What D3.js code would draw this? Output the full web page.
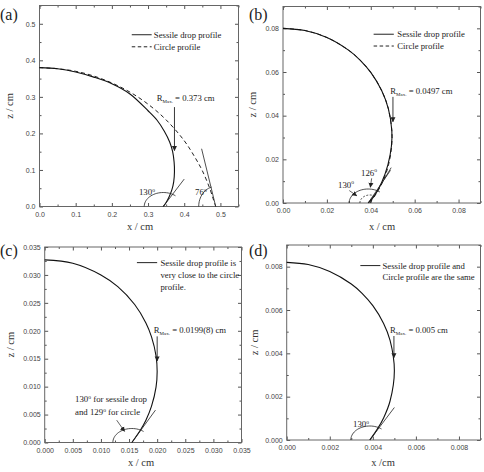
<!DOCTYPE html>
<html>
<head>
<meta charset="utf-8">
<script src="https://cdn.jsdelivr.net/npm/d3@7"></script>
<style>
  body { margin: 0; background: #fff; }
  text { font-family: "Liberation Serif", "Times New Roman", serif; }
  .tick text { font-family: "Liberation Sans", Arial, sans-serif; font-size: 7px; fill: #444; }
</style>
</head>
<body>
<svg id="chart" width="484" height="472"></svg>
<script>
"use strict";

// ---- data: [x, z] in cm ----
const sessileA = [[0, 0.380], [0.05, 0.377], [0.10, 0.368], [0.15, 0.354], [0.20, 0.336], [0.25, 0.308],
    [0.30, 0.262], [0.325, 0.236], [0.345, 0.206], [0.36, 0.176], [0.368, 0.150], [0.372, 0.122],
    [0.373, 0.095], [0.371, 0.068], [0.366, 0.046], [0.358, 0.026], [0.350, 0.011], [0.342, 0]];
const circleA = [[0, 0.380], [0.05, 0.377], [0.10, 0.370], [0.15, 0.357], [0.20, 0.338], [0.25, 0.313],
    [0.30, 0.280], [0.35, 0.237], [0.40, 0.180], [0.43, 0.134], [0.45, 0.098], [0.47, 0.051],
    [0.48, 0.021], [0.487, 0]];
const sessileB = [[0, 0.0800], [0.01, 0.0790], [0.02, 0.0758], [0.03, 0.0699], [0.035, 0.0656], [0.04, 0.0598],
    [0.045, 0.0514], [0.048, 0.0432], [0.0496, 0.0330], [0.0494, 0.0260], [0.0478, 0.0175], [0.0450, 0.0095],
    [0.0422, 0.0042], [0.0388, 0]];
const circleB = [[0, 0.0800], [0.01, 0.0790], [0.02, 0.0758], [0.03, 0.0699], [0.035, 0.0656], [0.04, 0.0598],
    [0.045, 0.0514], [0.048, 0.0432], [0.0497, 0.0303], [0.0481, 0.0175], [0.0452, 0.0092],
    [0.0426, 0.0045], [0.0396, 0]];
const sessileC = [[0, 0.0327], [0.005, 0.0321], [0.010, 0.0300], [0.013, 0.0279], [0.016, 0.0247], [0.018, 0.0214],
    [0.019, 0.0189], [0.0198, 0.0155], [0.0200, 0.0127], [0.0198, 0.0099], [0.0190, 0.0065],
    [0.0180, 0.0040], [0.0170, 0.0022], [0.0155, 0]];
const sessileD = [[0, 0.00820], [0.001, 0.00810], [0.002, 0.00778], [0.003, 0.00720], [0.0035, 0.00677],
    [0.004, 0.00620], [0.0045, 0.00538], [0.0048, 0.00460], [0.0050, 0.00320], [0.0048, 0.00180],
    [0.0045, 0.00102], [0.0042, 0.00049], [0.00386, 0]];

// tangent lines at the contact points
const tangentsA = [[[0.342, 0], [0.400, 0.075]], [[0.487, 0], [0.448, 0.158]]];
const tangentsB = [[[0.0388, 0], [0.0490, 0.0150]], [[0.0396, 0], [0.0493, 0.0162]]];
const tangentsC = [[[0.0155, 0], [0.0197, 0.0058]]];
const tangentsD = [[[0.00386, 0], [0.0050, 0.0015]]];

// tick values
const majorA = [0, 0.1, 0.2, 0.3, 0.4, 0.5];
const minorA = [0.05, 0.15, 0.25, 0.35, 0.45, 0.55];
const majorB = [0, 0.02, 0.04, 0.06, 0.08];
const minorB = [0.01, 0.03, 0.05, 0.07, 0.09];
const majorC = [0, 0.005, 0.010, 0.015, 0.020, 0.025, 0.030, 0.035];
const minorC = [0.0025, 0.0075, 0.0125, 0.0175, 0.0225, 0.0275, 0.0325];
const majorD = [0, 0.002, 0.004, 0.006, 0.008];
const minorD = [0.001, 0.003, 0.005, 0.007, 0.009];

const svg = d3.select("#chart");

svg.append("defs").append("marker")
    .attr("id", "arrow")
    .attr("viewBox", "0 0 10 10")
    .attr("refX", 9).attr("refY", 5)
    .attr("markerWidth", 5).attr("markerHeight", 6)
    .attr("markerUnits", "userSpaceOnUse")
    .attr("orient", "auto")
    .append("path")
    .attr("d", "M0,0L10,5L0,10z")
    .attr("fill", "#222");

const panels = [
    {
        letter: "(a)", letterPos: [0, 20],
        left: 39.5, right: 238.5, top: 5.5, bottom: 206.5,
        xDomain: [0, 0.55], yDomain: [0, 0.55], major: majorA, minor: minorA, fmt: ".1f",
        xTitle: "x / cm", titleX: 140, titleY: 230, yTitleX: 13,
        solid: sessileA, dashed: circleA, tangents: tangentsA,
        arcs: [{ at: [0.342, 0], rx: 19, ry: 14, end: 50 }, { at: [0.487, 0], rx: 17, ry: 20, end: 104 }],
        legend: { x: 0.255, x2: 0.31, tx: 0.316, lines: [[0.47, "Sessile drop profile", "solid"], [0.437, "Circle profile", "dash"]] },
        rmax: { x: 0.324, z: 0.289, value: " = 0.373 cm", ax: 0.373, z0: 0.272, z1: 0.153 },
        notes: [{ x: 0.297, z: 0.031, deg: "130", anchor: "middle" }, { x: 0.446, z: 0.031, deg: "76", anchor: "middle" }],
        pointers: []
    },
    {
        letter: "(b)", letterPos: [249, 20],
        left: 283, right: 480.5, top: 6.5, bottom: 203,
        xDomain: [0, 0.09], yDomain: [0, 0.09], major: majorB, minor: minorB, fmt: ".2f",
        xTitle: "x / cm", titleX: 382, titleY: 230, yTitleX: 256,
        solid: sessileB, dashed: circleB, tangents: tangentsB,
        arcs: [{ at: [0.0388, 0], rx: 19, ry: 14, end: 52 }, { at: [0.0396, 0], rx: 10, ry: 8, end: 54, dash: true }],
        legend: { x: 0.0413, x2: 0.0505, tx: 0.0521, lines: [[0.0773, "Sessile drop profile", "solid"], [0.0719, "Circle profile", "dash"]] },
        rmax: { x: 0.0489, z: 0.0497, value: " = 0.0497 cm", ax: 0.0501, z0: 0.0486, z1: 0.0372 },
        notes: [{ x: 0.0287, z: 0.0069, deg: "130", anchor: "middle" }, { x: 0.0392, z: 0.0124, deg: "126", anchor: "middle" }],
        pointers: [[[0.0302, 0.0057], [0.0336, 0.0033]], [[0.0404, 0.0113], [0.0398, 0.0072]]]
    },
    {
        letter: "(c)", letterPos: [0, 256],
        left: 44.7, right: 241.5, top: 247, bottom: 442.5,
        xDomain: [0, 0.035], yDomain: [0, 0.035], major: majorC, minor: minorC, fmt: ".3f",
        xTitle: "x / cm", titleX: 141, titleY: 466, yTitleX: 14,
        solid: sessileC, dashed: null, tangents: tangentsC,
        arcs: [{ at: [0.0155, 0], rx: 19, ry: 14, end: 52 }],
        legend: { x: 0.0164, x2: 0.0200, tx: 0.0206, lines: [[0.0322, "Sessile drop profile is", "solid"], [0.0300, "very close to the circle"], [0.0278, "profile."]] },
        rmax: { x: 0.0194, z: 0.0196, value: " = 0.0199(8) cm", ax: 0.0200, z0: 0.0190, z1: 0.0146 },
        notes: [{ x: 0.0054, z: 0.00725, text: "130", rest: " for sessile drop" }, { x: 0.0054, z: 0.0049, text: "and 129", rest: " for circle" }],
        pointers: [[[0.0128, 0.0040], [0.0142, 0.0020]]]
    },
    {
        letter: "(d)", letterPos: [249, 256],
        left: 286.7, right: 480.5, top: 245, bottom: 440,
        xDomain: [0, 0.009], yDomain: [0, 0.009], major: majorD, minor: minorD, fmt: ".3f",
        xTitle: "x /cm", titleX: 383, titleY: 466, yTitleX: 258,
        solid: sessileD, dashed: null, tangents: tangentsD,
        arcs: [{ at: [0.00386, 0], rx: 19, ry: 14, end: 52 }],
        legend: { x: 0.00342, x2: 0.00435, tx: 0.00445, lines: [[0.00805, "Sessile drop profile and", "solid"], [0.00751, "Circle profile are the same"]] },
        rmax: { x: 0.0048, z: 0.00494, value: " = 0.005 cm", ax: 0.00498, z0: 0.0048, z1: 0.0038 },
        notes: [{ x: 0.00345, z: 0.0006, deg: "130", anchor: "middle" }],
        pointers: []
    }
];

panels.forEach(DrawPanel);

function DrawPanel(p) {
    const g = svg.append("g");
    const x = d3.scaleLinear().domain(p.xDomain).range([p.left, p.right]);
    const y = d3.scaleLinear().domain(p.yDomain).range([p.bottom, p.top]);
    const fmt = d3.format(p.fmt);

    // Inward ticks on all four sides, labels on bottom and left only
    const addAxis = (axisFn, scale, tx, ty, values, size, labels, dy) => {
        const ax = axisFn(scale).tickValues(values).tickSize(-size).tickPadding(4)
            .tickFormat(labels ? fmt : "");
        g.append("g")
            .attr("transform", `translate(${tx},${ty})`)
            .call(ax)
            .call(s => s.select(".domain").remove())
            .call(s => s.selectAll(".tick line").attr("stroke", "#555"))
            .call(s => s.selectAll(".tick text").attr("dy", dy || null));
    };
    addAxis(d3.axisBottom, x, 0, p.bottom, p.major, 3.5, true, "0.9em");
    addAxis(d3.axisBottom, x, 0, p.bottom, p.minor.filter(v => v <= p.xDomain[1]), 2, false);
    addAxis(d3.axisTop, x, 0, p.top, p.major, 3.5, false);
    addAxis(d3.axisTop, x, 0, p.top, p.minor.filter(v => v <= p.xDomain[1]), 2, false);
    addAxis(d3.axisLeft, y, p.left, 0, p.major, 3.5, true, "0.32em");
    addAxis(d3.axisLeft, y, p.left, 0, p.minor.filter(v => v <= p.yDomain[1]), 2, false);
    addAxis(d3.axisRight, y, p.right, 0, p.major, 3.5, false);
    addAxis(d3.axisRight, y, p.right, 0, p.minor.filter(v => v <= p.yDomain[1]), 2, false);

    // Frame
    g.append("rect")
        .attr("x", p.left).attr("y", p.top)
        .attr("width", p.right - p.left).attr("height", p.bottom - p.top)
        .attr("fill", "none").attr("stroke", "#666").attr("stroke-width", 1);

    const line = d3.line()
        .curve(d3.curveCatmullRom)
        .x(d => x(d[0]))
        .y(d => y(d[1]));

    if (p.dashed) {
        g.append("path").datum(p.dashed)
            .attr("d", line).attr("fill", "none")
            .attr("stroke", "#222").attr("stroke-width", 1)
            .attr("stroke-dasharray", "4,3");
    }
    g.append("path").datum(p.solid)
        .attr("d", line).attr("fill", "none")
        .attr("stroke", "#111").attr("stroke-width", 1.1);

    // Tangent lines
    g.selectAll(".tangent").data(p.tangents).join("line")
        .attr("class", "tangent")
        .attr("x1", d => x(d[0][0])).attr("y1", d => y(d[0][1]))
        .attr("x2", d => x(d[1][0])).attr("y2", d => y(d[1][1]))
        .attr("stroke", "#222").attr("stroke-width", 0.8);

    // Angle arcs
    p.arcs.forEach(a => {
        const cx = x(a.at[0]), cy = y(a.at[1]);
        const pts = d3.range(180, a.end - 0.1, -5).concat([a.end]).map(t => {
            const r = t * Math.PI / 180;
            return [cx + a.rx * Math.cos(r), cy - a.ry * Math.sin(r)];
        });
        g.append("path")
            .attr("d", d3.line()(pts))
            .attr("fill", "none").attr("stroke", "#222").attr("stroke-width", 0.8)
            .attr("stroke-dasharray", a.dash ? "2,1.5" : null);
    });

    // Legend
    const lg = p.legend;
    lg.lines.forEach(l => {
        if (l[2]) {
            g.append("line")
                .attr("x1", x(lg.x)).attr("x2", x(lg.x2))
                .attr("y1", y(l[0])).attr("y2", y(l[0]))
                .attr("stroke", "#222").attr("stroke-width", 1)
                .attr("stroke-dasharray", l[2] === "dash" ? "3.5,2.5" : null);
        }
        g.append("text")
            .attr("x", x(lg.tx)).attr("y", y(l[0]) + 3.1)
            .attr("font-size", 8.7).attr("fill", "#222")
            .text(l[1]);
    });

    // R max label and arrow
    const rm = p.rmax;
    const rt = g.append("text")
        .attr("x", x(rm.x)).attr("y", y(rm.z))
        .attr("font-size", 8.7).attr("fill", "#222");
    rt.append("tspan").text("R");
    rt.append("tspan").attr("font-size", 5).attr("dy", 2).text("Max.");
    rt.append("tspan").attr("dy", -2).text(rm.value);
    g.append("line")
        .attr("x1", x(rm.ax)).attr("x2", x(rm.ax))
        .attr("y1", y(rm.z0)).attr("y2", y(rm.z1))
        .attr("stroke", "#222").attr("stroke-width", 0.9)
        .attr("marker-end", "url(#arrow)");

    // Angle notes
    p.notes.forEach(n => {
        const t = g.append("text")
            .attr("x", x(n.x)).attr("y", y(n.z))
            .attr("font-size", 8.8).attr("fill", "#222")
            .attr("text-anchor", n.anchor || "start");
        t.append("tspan").text(n.deg || n.text);
        t.append("tspan").attr("font-size", 5.5).attr("dy", -3.5).text("o");
        if (n.rest) t.append("tspan").attr("dy", 3.5).text(n.rest);
    });

    p.pointers.forEach(d => {
        g.append("line")
            .attr("x1", x(d[0][0])).attr("y1", y(d[0][1]))
            .attr("x2", x(d[1][0])).attr("y2", y(d[1][1]))
            .attr("stroke", "#222").attr("stroke-width", 0.7)
            .attr("marker-end", "url(#arrow)");
    });

    // Axis titles and panel letter
    g.append("text")
        .attr("x", p.titleX).attr("y", p.titleY)
        .attr("text-anchor", "middle").attr("font-size", 10.5).attr("fill", "#333")
        .text(p.xTitle);
    g.append("text")
        .attr("transform", `translate(${p.yTitleX},${(p.top + p.bottom) / 2}) rotate(-90)`)
        .attr("text-anchor", "middle").attr("font-size", 10.5).attr("fill", "#333")
        .text("z / cm");
    g.append("text")
        .attr("x", p.letterPos[0]).attr("y", p.letterPos[1])
        .attr("font-size", 16).attr("fill", "#222")
        .text(p.letter);
}
</script>
</body>
</html>
